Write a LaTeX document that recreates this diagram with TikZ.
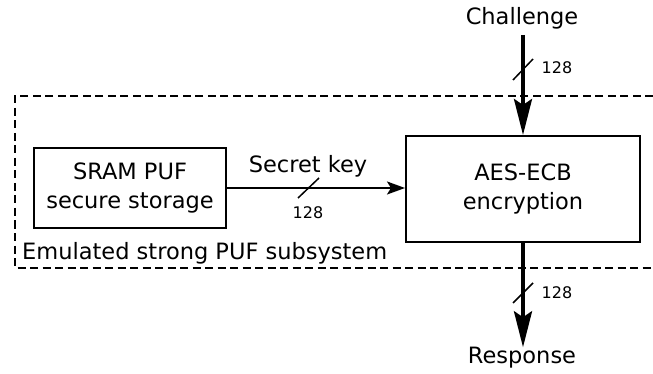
\documentclass[tikz,border=0pt]{standalone}
\usepackage{fontspec}
\setmainfont{DejaVu Sans}
\usetikzlibrary{arrows.meta}

\begin{document}
\begin{tikzpicture}[x=1pt,y=-1pt,line join=miter,
  font=\fontsize{22.5}{29}\selectfont,
  block/.style={draw,line width=2pt,align=center,inner sep=0pt},
  busthick/.style={line width=3.8pt,-{Stealth[length=36pt,width=18pt,inset=6pt]}},
  busthin/.style={line width=2pt,-{Stealth[length=18pt,width=13pt,inset=4pt]}},
  slash/.style={line width=1.5pt},
  buswidth/.style={font=\fontsize{16}{19}\selectfont,inner sep=0pt}]
  \useasboundingbox (0,0) rectangle (653,374);
  % subsystem frame, open to the right
  \draw[line width=1.6pt,dash pattern=on 8pt off 4.5pt] (653,96) -- (15,96) -- (15,268) -- (653,268);
  \node[anchor=south west,inner sep=0pt] (frame) at (22,264) {Emulated strong PUF subsystem};
  % blocks
  \node[block,minimum width=192pt,minimum height=80pt] (sram) at (130,188) {SRAM PUF\\secure storage};
  \node[block,minimum width=234pt,minimum height=106pt] (aes) at (523,189) {AES-ECB\\encryption};
  % inputs and outputs
  \node[inner sep=0pt] (chal) at (522,18) {Challenge};
  \node[inner sep=0pt] (resp) at (522,358) {Response};
  \coordinate (chaltop) at (523,35);
  \draw[busthick] (chaltop) -- (aes.north);
  \draw[busthick] (aes.south) -- (resp.north -| aes.south);
  \draw[busthin] (sram.east) -- (aes.west |- sram.east);
  \node[above=11pt,inner sep=0pt] (keylbl) at (308,188) {Secret key};
  % bus widths
  \draw[slash] (513,80) -- (533,59);
  \node[buswidth] (wchal) at (557,68) {128};
  \draw[slash] (513,303) -- (533,283);
  \node[buswidth] (wresp) at (557,293) {128};
  \draw[slash] (298,198) -- (319,178);
  \node[buswidth] (wkey) at (308,213) {128};
\end{tikzpicture}
\end{document}
